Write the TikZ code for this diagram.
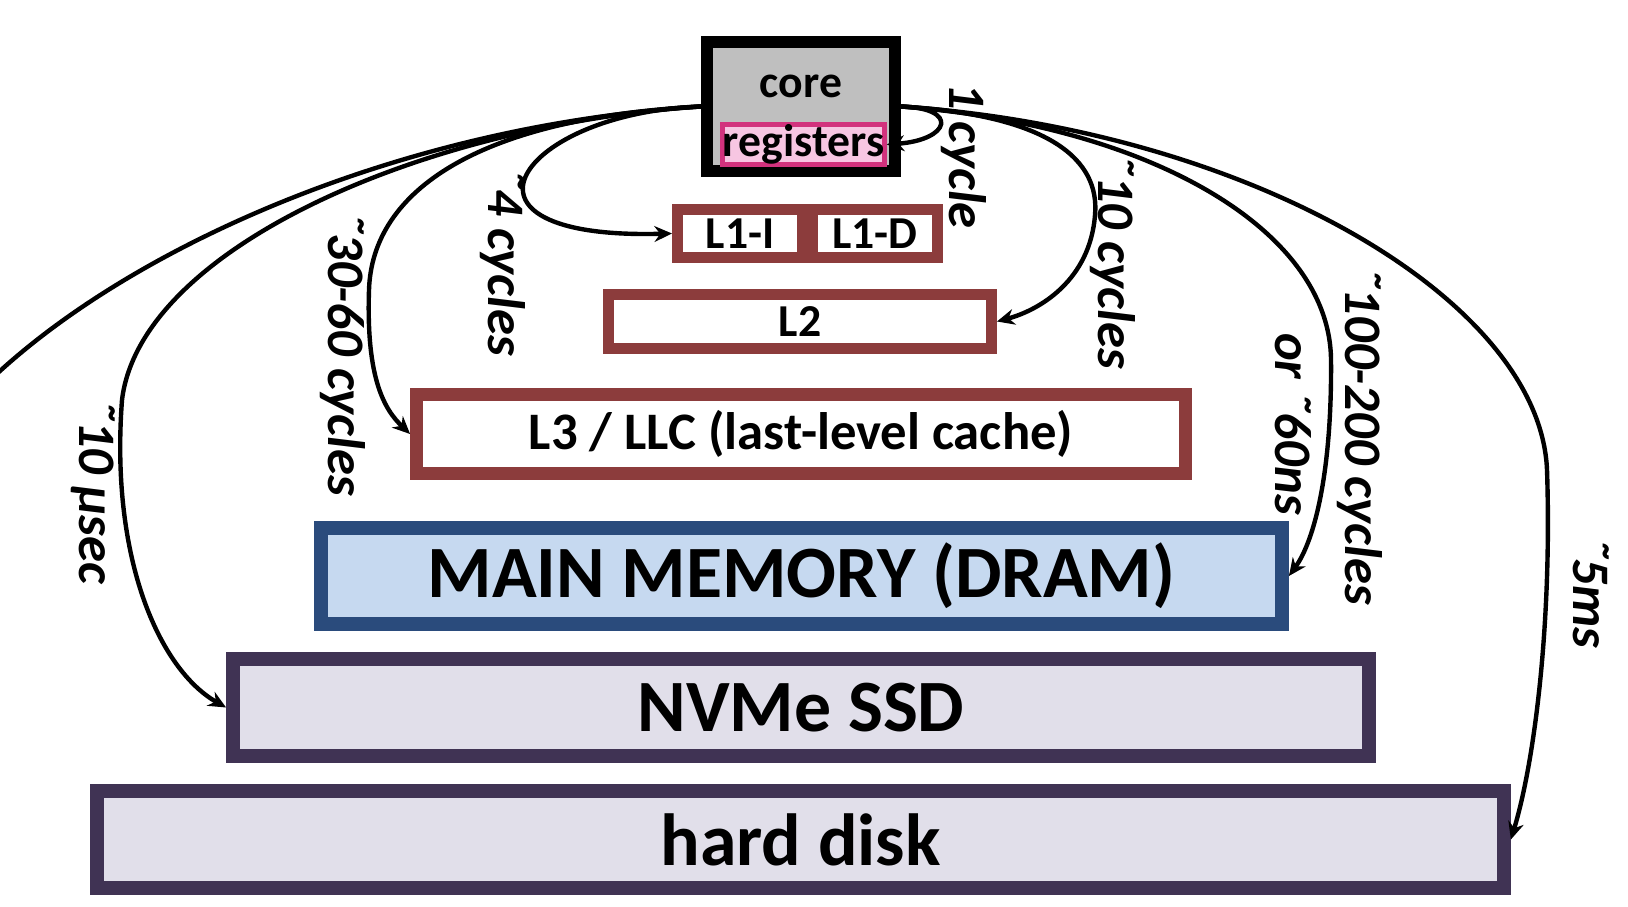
\documentclass[tikz,border=0pt]{standalone}
\usepackage{fontspec}
\setmainfont{Carlito}
\definecolor{cachered}{RGB}{140,60,60}
\definecolor{dramblue}{RGB}{42,75,124}
\definecolor{dramfill}{RGB}{198,217,240}
\definecolor{diskpurple}{RGB}{64,51,84}
\definecolor{diskfill}{RGB}{225,223,234}
\definecolor{coregray}{RGB}{191,191,191}
\definecolor{regmagenta}{RGB}{210,50,125}
\definecolor{regpink}{RGB}{247,198,226}
\usetikzlibrary{arrows.meta}
\newcommand{\fsz}[1]{\fontsize{#1}{#1}\selectfont\bfseries}
\newcommand{\tld}{˜\kern-0.04em}

\begin{document}
\begin{tikzpicture}[x=0.02cm,y=-0.02cm,
    tierbox/.style={draw,inner sep=0pt,font=\fsz{26}},
    cachebox/.style={tierbox,draw=cachered,fill=white,line width=0.22cm},
    drambox/.style={tierbox,draw=dramblue,fill=dramfill,line width=0.28cm,font=\fsz{42}},
    diskbox/.style={tierbox,draw=diskpurple,fill=diskfill,line width=0.28cm,font=\fsz{42},minimum height=1.94cm},
    lat/.style={-{Stealth[length=10pt,width=9pt]},line width=2.5pt},
    latlabel/.style={font=\fsz{30}\itshape,rotate=-90,inner sep=0pt}]
  \clip (0,0) rectangle (1628,906);
  % the core and its registers
  \node[tierbox,draw=black,fill=coregray,line width=0.24cm,minimum width=3.76cm,minimum height=2.58cm] (core) at (801,106.5) {};
  \node[font=\fsz{26}] (coretxt) at (801,86) {core};
  \node[tierbox,draw=regmagenta,fill=regpink,line width=0.1cm,minimum width=3.08cm,minimum height=0.8cm] (reg) at (803.5,144.5) {registers};
  % caches
  \node[cachebox,minimum width=2.5cm,minimum height=0.96cm] (l1i) at (740,233.5) {L1-I};
  \node[cachebox,minimum width=2.5cm,minimum height=0.96cm] (l1d) at (875,233.5) {L1-D};
  \node[cachebox,minimum width=7.66cm,minimum height=1.08cm] (l2) at (800,321.5) {L2};
  \node[cachebox,line width=0.26cm,minimum width=15.38cm,minimum height=1.58cm,font=\fsz{30}] (l3) at (801,434) {L3 / LLC (last-level cache)};
  % memory and storage
  \node[drambox,minimum width=19.22cm,minimum height=1.92cm] (dram) at (801.5,576) {MAIN MEMORY (DRAM)};
  \node[diskbox,minimum width=22.72cm] (nvme) at (801,707.5) {NVMe SSD};
  \node[diskbox,minimum width=28.14cm] (hdd) at (800.5,839.5) {hard disk};
  \coordinate (offleft) at (-20,390);
  % latencies, left side
  \draw[lat] (core.west) .. controls (520,112) and (430,240) .. (l1i.west);
  \draw[lat] (core.west) .. controls (480,118) and (372,190) .. (369,290) .. controls (366,380) and (385,410) .. (l3.west);
  \draw[lat] (core.west) .. controls (420,125) and (140,250) .. (122,400) .. controls (110,560) and (160,670) .. (nvme.west);
  \draw[line width=2.5pt] (core.west) .. controls (400,125) and (120,250) .. (offleft);
  % latencies, right side
  \draw[lat] (core.east) .. controls (960,108) and (950,140) .. (reg.east);
  \draw[lat] (core.east) .. controls (1050,115) and (1100,160) .. (1095,215) .. controls (1090,280) and (1040,310) .. (l2.east);
  \draw[lat] (core.east) .. controls (1150,125) and (1330,230) .. (1331,360) .. controls (1332,470) and (1315,540) .. (dram.east);
  \draw[lat] (core.east) .. controls (1250,130) and (1540,300) .. (1547,470) .. controls (1552,620) and (1535,760) .. (hdd.east);
  % labels
  \node[latlabel] (lbl1) at (964,156) {1 cycle};
  \node[latlabel] (lbl4) at (503,262) {\tld4 cycles};
  \node[latlabel] (lbl30) at (343,354) {\tld30-60 cycles};
  \node[latlabel] (lblus) at (93,492) {\tld10 µsec};
  \node[latlabel] (lbl10) at (1113,262) {\tld10 cycles};
  \node[latlabel] (lblns) at (1293,424) {or \tld60ns};
  \node[latlabel] (lbl100) at (1360,436) {\tld100-200 cycles};
  \node[latlabel] (lbl5) at (1591,593) {\tld5ms};
\end{tikzpicture}
\end{document}
